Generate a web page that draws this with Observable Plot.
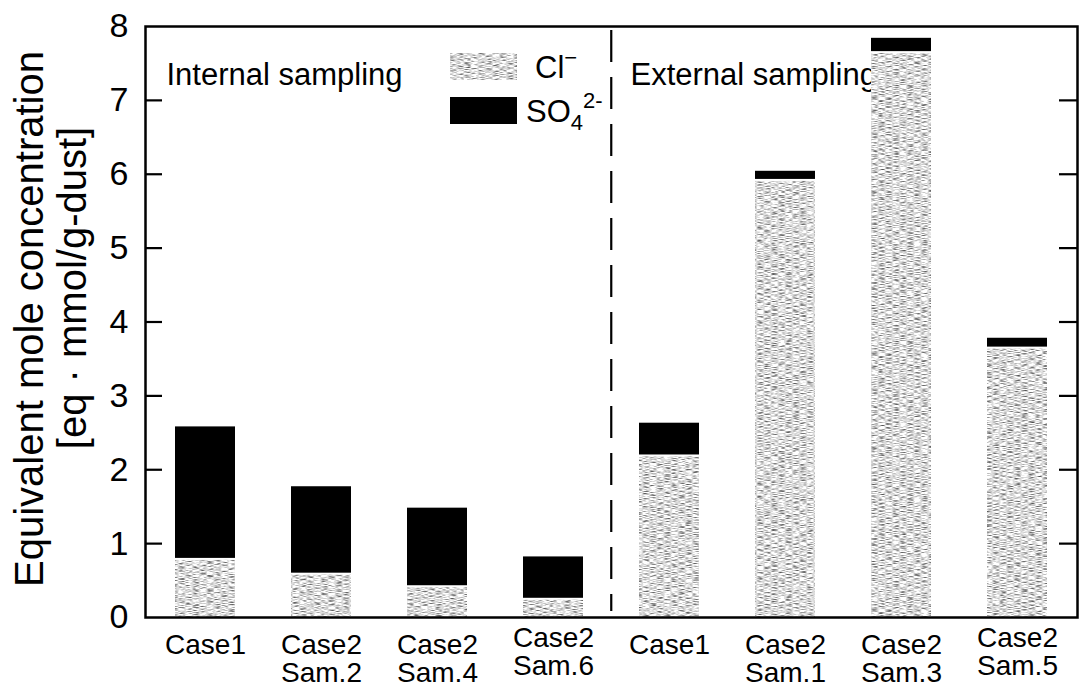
<!DOCTYPE html>
<html>
<head>
<meta charset="utf-8">
<script src="https://cdn.jsdelivr.net/npm/d3@7"></script>
<script src="https://cdn.jsdelivr.net/npm/@observablehq/plot@0.6"></script>
<style>
  html, body { margin: 0; padding: 0; background: #fff; }
  #chart svg { display: block; }
</style>
</head>
<body>
<div id="chart"></div>
<script>
// ---- data ----
const categories = [
  "Internal Case1", "Internal Case2 Sam.2", "Internal Case2 Sam.4", "Internal Case2 Sam.6",
  "External Case1", "External Case2 Sam.1", "External Case2 Sam.3", "External Case2 Sam.5"
];
const tickLabels = [
  "Case1", "Case2\nSam.2", "Case2\nSam.4", "Case2\nSam.6",
  "Case1", "Case2\nSam.1", "Case2\nSam.3", "Case2\nSam.5"
];
const clValues  = [0.80, 0.60, 0.43, 0.26, 2.20, 5.93, 7.66, 3.66];
const so4Values = [1.78, 1.17, 1.05, 0.56, 0.43, 0.11, 0.18, 0.12];
const yTicks = [0, 1, 2, 3, 4, 5, 6, 7, 8];
const innerTicks = [1, 2, 3, 4, 5, 6, 7];
const sectionLabels = ["Internal sampling", "External sampling"];
const sectionStarts = [categories[0], categories[4]];
const yLabelLines = ["Equivalent mole concentration", "[eq · mmol/g-dust]"];

const CL_COLOR = "#c9c9c9";
const SO4_COLOR = "#000000";

const clRows = categories.map((c, i) => ({cat: c, y1: 0, y2: clValues[i]}));
const so4Rows = categories.map((c, i) => ({cat: c, y1: clValues[i], y2: clValues[i] + so4Values[i]}));
const sections = sectionLabels.map((label, i) => ({label, start: sectionStarts[i]}));

const legendItems = [
  {base: "Cl", sub: "", sup: "\u2212", fill: CL_COLOR, texture: true},
  {base: "SO", sub: "4", sup: "2-", fill: SO4_COLOR, texture: false}
];

const W = 1088, H = 689;
const mL = 145, mR = 11, mT = 26, mB = 72;
const step = (W - mL - mR) / categories.length;
const raisedTicks = [categories[3], categories[7]];
const normalTicks = categories.filter(c => !raisedTicks.includes(c));

function legendMark(index, scales, values, dimensions) {
  const {marginLeft, marginTop} = dimensions;
  const g = d3.create("svg:g").attr("text-anchor", "start");
  const defs = g.append("defs");
  const f = defs.append("filter").attr("id", "clTexture")
    .attr("color-interpolation-filters", "sRGB");
  f.append("feTurbulence").attr("type", "fractalNoise")
    .attr("baseFrequency", "0.14 1.0").attr("numOctaves", 2).attr("seed", 7).attr("result", "noise");
  f.append("feColorMatrix").attr("in", "noise").attr("type", "matrix")
    .attr("values", "1.8 0 0 0 -0.04  1.8 0 0 0 -0.04  1.8 0 0 0 -0.04  0 0 0 0 1").attr("result", "gray");
  f.append("feComposite").attr("in", "gray").attr("in2", "SourceGraphic").attr("operator", "in");

  legendItems.forEach((d, i) => {
    const x0 = marginLeft + 305, y0 = marginTop + 27 + i * 44;
    g.append("rect").attr("x", x0).attr("y", y0).attr("width", 67).attr("height", 27)
      .attr("fill", d.fill).attr("filter", d.texture ? "url(#clTexture)" : null);
    const t = g.append("text")
      .attr("x", x0 + 67 + (d.sub ? 9 : 18)).attr("y", y0 + 25)
      .attr("font-size", 31).attr("fill", "#000");
    t.append("tspan").text(d.base);
    if (d.sub) t.append("tspan").attr("dy", 8).attr("font-size", 22).text(d.sub);
    t.append("tspan").attr("dy", d.sub ? -22 : -13).attr("font-size", 22).text(d.sup);
  });
  return g.node();
}

const xTickFormat = d => tickLabels[categories.indexOf(d)];

const plot = Plot.plot({
  width: W,
  height: H,
  marginLeft: mL, marginRight: mR, marginTop: mT, marginBottom: mB,
  style: {fontFamily: "'Liberation Sans', Arial, Helvetica, sans-serif", fontSize: "30px", color: "#000", background: "#fff"},
  x: {domain: categories, paddingInner: 0.48, paddingOuter: 0.24, label: null},
  y: {domain: [0, 8], label: null},
  marks: [
    // section annotations (drawn first so bars overlap them)
    Plot.text(sections, {x: "start", text: "label", frameAnchor: "top", textAnchor: "start",
      lineAnchor: "top", dx: -39, dy: 36, fontSize: 31, fill: "#000"}),
    // stacked bars
    Plot.rectY(clRows, {x: "cat", y1: "y1", y2: "y2", fill: CL_COLOR, insetTop: 2}),
    Plot.rectY(so4Rows, {x: "cat", y1: "y1", y2: "y2", fill: SO4_COLOR}),
    // separator
    Plot.ruleX([categories[4]], {dx: -step / 2, stroke: "#000", strokeWidth: 2.2,
      strokeDasharray: "32,15", insetTop: 4, insetBottom: 6}),
    // axes
    Plot.axisY({ticks: yTicks, anchor: "left", tickSize: 0, tickPadding: 17, fontSize: 34, label: null}),
    Plot.axisY({ticks: innerTicks, anchor: "left", tickSize: -17, tickFormat: () => "", strokeWidth: 2.2, label: null}),
    Plot.axisY({ticks: innerTicks, anchor: "right", tickSize: -19, tickFormat: () => "", strokeWidth: 2.2, label: null}),
    Plot.axisX({ticks: normalTicks, anchor: "bottom", tickSize: 0, tickPadding: 17, fontSize: 28, lineHeight: 1,
      tickFormat: xTickFormat, label: null}),
    Plot.axisX({ticks: raisedTicks, anchor: "bottom", tickSize: 0, tickPadding: 10, fontSize: 28, lineHeight: 1,
      tickFormat: xTickFormat, label: null}),
    // y axis title, two lines
    Plot.text([yLabelLines[0]], {text: d => d, frameAnchor: "left", textAnchor: "middle", rotate: -90,
      dx: -115, dy: -3, fontSize: 40, fill: "#000"}),
    Plot.text([yLabelLines[1]], {text: d => d, frameAnchor: "left", textAnchor: "middle", rotate: -90,
      dx: -72, dy: -34, fontSize: 40, fill: "#000"}),
    Plot.frame({stroke: "#000", strokeWidth: 2.5}),
    legendMark
  ]
});

d3.select(plot).selectAll("g").filter(function() {
  return this.getAttribute("fill") === CL_COLOR && this.getAttribute("aria-label") !== null;
}).attr("filter", "url(#clTexture)");

document.getElementById("chart").appendChild(plot);
</script>
</body>
</html>
